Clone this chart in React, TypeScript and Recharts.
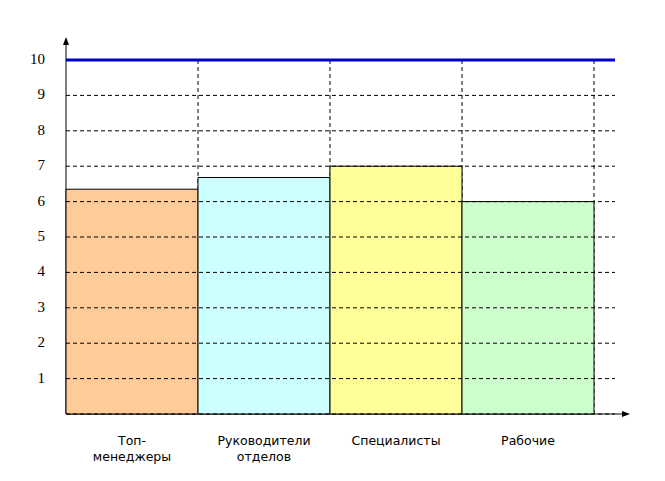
import React from 'react';
import * as R from 'recharts';

const { ComposedChart, Bar, XAxis, YAxis, CartesianGrid, ReferenceLine, Cell } = R as any;

const categories = ['Топ-\nменеджеры', 'Руководители\nотделов', 'Специалисты', 'Рабочие'];
const values = [6.35, 6.68, 7.0, 6.0];
const colors = ['#FFCC99', '#CCFFFF', '#FFFF99', '#CCFFCC'];
const yTicks = [1, 2, 3, 4, 5, 6, 7, 8, 9, 10];
const targetValue = 10;
const xPadRight = 21;

const data = categories.map((c, i) => ({ name: c, value: values[i] }));

function XTick(props: any) {
  const { x, y, payload } = props;
  const lines = String(payload.value).split('\n');
  return (
    <text
      x={x}
      y={y}
      textAnchor="middle"
      fontFamily="'DejaVu Sans', Verdana, sans-serif"
      fontSize={12.5}
      fill="#000"
    >
      {lines.map((l, i) => (
        <tspan key={i} x={x} dy={i === 0 ? 23 : 16}>
          {l}
        </tspan>
      ))}
    </text>
  );
}

function YTick(props: any) {
  const { x, y, payload } = props;
  return (
    <text
      x={x}
      y={y}
      dy={4}
      textAnchor="end"
      fontFamily="'Liberation Serif', 'Times New Roman', serif"
      fontSize={15}
      fill="#000"
    >
      {payload.value}
    </text>
  );
}

function Arrows() {
  const usePA = (R as any).usePlotArea;
  const pa = usePA ? usePA() : null;
  if (!pa) return null;
  const left = pa.x;
  const top = pa.y;
  const bottom = pa.y + pa.height;
  const right = pa.x + pa.width;
  const yTip = top - 23;
  const xTip = right + 15;
  return (
    <g>
      <line x1={left} y1={bottom} x2={left} y2={yTip + 6} stroke="#000" strokeWidth={1} />
      <polygon points={`${left},${yTip} ${left - 3},${yTip + 8} ${left + 3},${yTip + 8}`} fill="#000" />
      <line x1={left} y1={bottom} x2={xTip - 6} y2={bottom} stroke="#000" strokeWidth={1} />
      <polygon points={`${xTip},${bottom} ${xTip - 8},${bottom - 3} ${xTip - 8},${bottom + 3}`} fill="#000" />
    </g>
  );
}

const verticalGen = (props: any) => {
  const off = props.offset || {};
  const left = off.left ?? 58;
  const width = off.width ?? 549;
  const band = (width - xPadRight) / categories.length;
  return categories.map((_, i) => left + band * (i + 1));
};

export default function App() {
  return (
    <div style={{ width: 657, height: 473 }}>
      <ComposedChart
        width={657}
        height={473}
        data={data}
        margin={{ top: 52, right: 50, left: 0, bottom: 0 }}
        barCategoryGap={0}
      >
        <CartesianGrid
          horizontal={false}
          vertical={true}
          stroke="#000"
          strokeDasharray="4 3"
          verticalCoordinatesGenerator={verticalGen}
        />
        <XAxis
          dataKey="name"
          axisLine={false}
          tickLine={false}
          height={67}
          padding={{ left: 0, right: xPadRight }}
          interval={0}
          tick={<XTick />}
        />
        <YAxis
          width={58}
          domain={[0, 10]}
          ticks={yTicks}
          axisLine={false}
          tickLine={false}
          tickMargin={15}
          tick={<YTick />}
        />
        <Bar dataKey="value" stroke="#000" strokeWidth={1} isAnimationActive={false}>
          {data.map((d, i) => (
            <Cell key={i} fill={colors[i]} />
          ))}
        </Bar>
        <CartesianGrid
          horizontal={true}
          vertical={false}
          stroke="#000"
          strokeDasharray="4 3"
          zIndex={500}
        />
        <ReferenceLine y={targetValue} stroke="#0000CC" strokeWidth={3} zIndex={600} />
        <Arrows />
      </ComposedChart>
    </div>
  );
}
